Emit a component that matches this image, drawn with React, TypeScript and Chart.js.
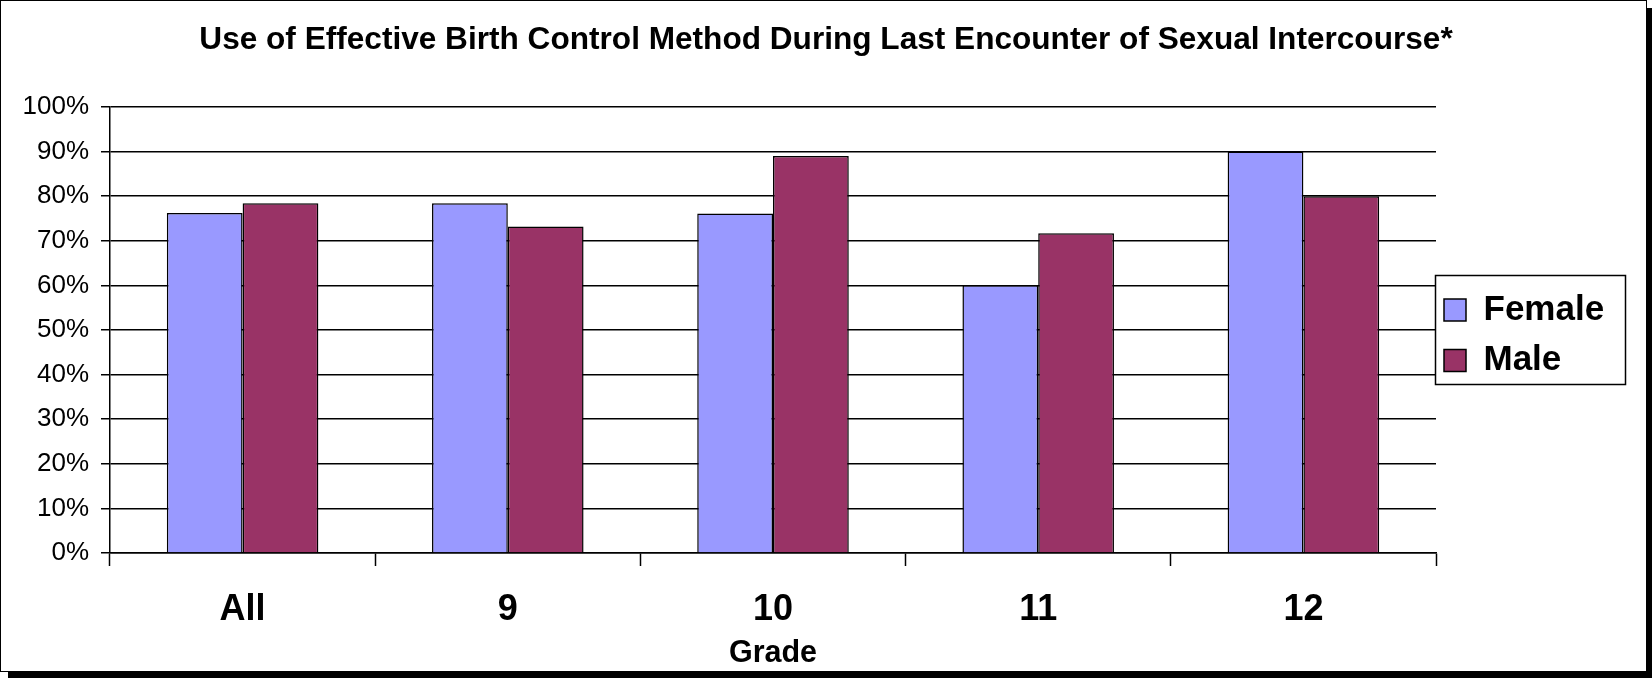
import React, { useEffect, useRef } from 'react';
import { Chart, registerables } from 'chart.js';

Chart.register(...registerables);

const categories = ['All', '9', '10', '11', '12'];
const femaleValues = [76.2, 78.4, 76.1, 60, 90];
const maleValues = [78.4, 73.2, 89, 71.7, 80];
const seriesNames = ['Female', 'Male'];
const seriesColors = ['#9999FF', '#993366'];
const titleText = 'Use of Effective Birth Control Method During Last Encounter of Sexual Intercourse*';
const xAxisTitle = 'Grade';
const yMin = 0;
const yMax = 100;
const yStep = 10;

const FONT = '"Liberation Sans", Arial, Helvetica, sans-serif';

const legendFramePlugin = {
  id: 'legendFrame',
  beforeLayout(chart: any) {
    const lg = chart.legend;
    if (lg && !lg.__patched) {
      const origFit = lg.fit;
      lg.fit = function () {
        origFit.call(this);
        this.width = 216;
      };
      lg.__patched = true;
    }
  },
  afterDraw(chart: any) {
    const lg = chart.legend;
    if (!lg || !lg.legendHitBoxes || !lg.legendHitBoxes.length) return;
    const hb = lg.legendHitBoxes;
    const ctx = chart.ctx;
    ctx.save();
    ctx.strokeStyle = '#000';
    ctx.lineWidth = 1.5;
    ctx.strokeRect(lg.left - 0.5, hb[0].top - 17, 190, 109);
    ctx.restore();
  },
};

export default function App() {
  const canvasRef = useRef<HTMLCanvasElement | null>(null);

  useEffect(() => {
    document.body.style.margin = '0';
    document.body.style.overflow = 'hidden';
    const canvas = canvasRef.current;
    if (!canvas) return;
    const chart = new Chart(canvas, {
      type: 'bar',
      data: {
        labels: categories,
        datasets: [
          {
            label: seriesNames[0],
            data: femaleValues,
            backgroundColor: seriesColors[0],
            borderColor: '#000',
            borderWidth: 1.5,
            categoryPercentage: 2 / 3.5,
            barPercentage: 1,
          },
          {
            label: seriesNames[1],
            data: maleValues,
            backgroundColor: seriesColors[1],
            borderColor: '#000',
            borderWidth: 1.5,
            categoryPercentage: 2 / 3.5,
            barPercentage: 1,
          },
        ],
      },
      options: {
        responsive: false,
        animation: false,
        devicePixelRatio: 1,
        layout: { padding: 0 },
        plugins: {
          title: {
            display: true,
            text: titleText,
            color: '#000',
            font: { family: FONT, size: 31.6, weight: 'bold', lineHeight: 1.2 },
            padding: { top: 21.5, bottom: 47.5 },
          },
          legend: {
            display: true,
            position: 'right',
            fullSize: true,
            align: 'center',
            labels: {
              color: '#000',
              boxWidth: 22,
              boxHeight: 22,
              padding: 8,
              font: { family: FONT, size: 35, weight: 'bold', lineHeight: 42.5 / 35 },
              generateLabels: (chart: any) =>
                Chart.defaults.plugins.legend.labels
                  .generateLabels(chart)
                  .map((l: any) => ({ ...l, text: [l.text] })),
            },
          },
          tooltip: { enabled: false },
        },
        scales: {
          x: {
            grid: {
              display: true,
              drawOnChartArea: false,
              drawTicks: true,
              tickLength: 13,
              tickColor: '#000',
              tickWidth: 1.5,
              offset: true,
            },
            border: { display: true, color: '#000', width: 1.5 },
            ticks: {
              color: '#000',
              font: { family: FONT, size: 36, weight: 'bold', lineHeight: 1.2 },
              padding: 22.4,
              maxRotation: 0,
              autoSkip: false,
            },
            title: {
              display: true,
              text: xAxisTitle,
              color: '#000',
              font: { family: FONT, size: 30.5, weight: 'bold', lineHeight: 1.2 },
              padding: { top: 0, bottom: 6.2 },
            },
            afterFit: (scale: any) => {
              scale.height = 125;
            },
          },
          y: {
            min: yMin,
            max: yMax,
            grid: {
              color: '#000',
              lineWidth: 1.5,
              drawTicks: true,
              tickLength: 9,
              tickColor: '#000',
              tickWidth: 1.5,
            },
            border: { display: true, color: '#000', width: 1.5 },
            ticks: {
              stepSize: yStep,
              color: '#000',
              padding: 12,
              font: { family: FONT, size: 26, weight: 'normal' },
              callback: (v: any) => `${v}%`,
            },
            afterFit: (scale: any) => {
              scale.width = 110;
            },
          },
        },
      },
      plugins: [legendFramePlugin],
    } as any);
    return () => chart.destroy();
  }, []);

  return (
    <div style={{ position: 'relative', width: 1652, height: 678, overflow: 'hidden' }}>
      <div
        style={{
          position: 'absolute',
          left: 0,
          top: 0,
          width: 1647,
          height: 672,
          boxSizing: 'border-box',
          border: '1px solid #000',
          background: '#fff',
          boxShadow: '8px 8px 0 #000',
        }}
      />
      <canvas
        ref={canvasRef}
        width={1652}
        height={678}
        style={{ position: 'absolute', left: 0, top: 0, width: 1652, height: 678 }}
      />
    </div>
  );
}
